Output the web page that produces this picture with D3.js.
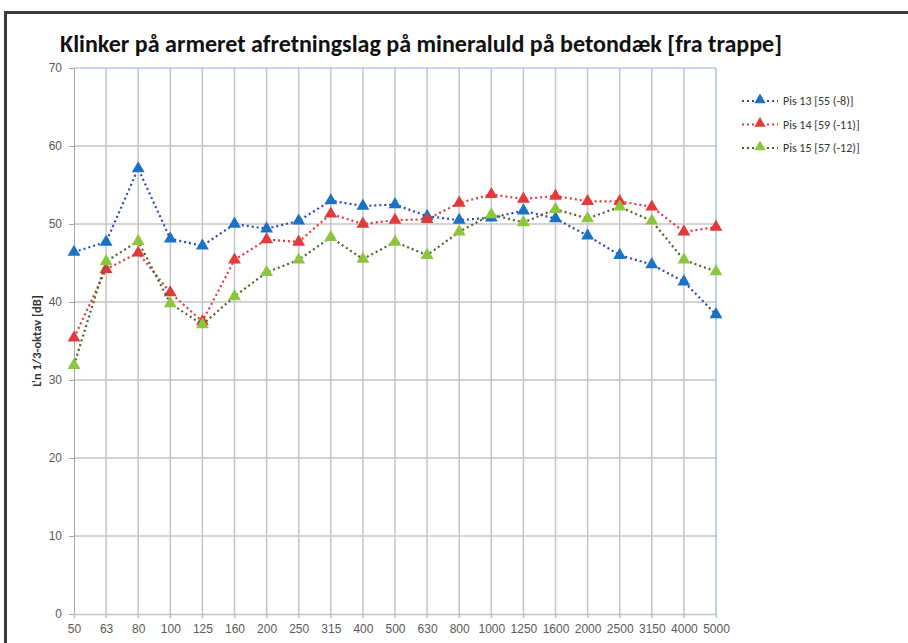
<!DOCTYPE html>
<html>
<head>
<meta charset="utf-8">
<script src="https://cdn.jsdelivr.net/npm/d3@7"></script>
<style>
  body { margin: 0; background: #fff; }
  svg { display: block; font-family: Carlito, "Liberation Sans", Lato, sans-serif; }
</style>
</head>
<body>
<div id="chart"></div>
<script>
// 1/3-octave frequency bands
var bands = ["50","63","80","100","125","160","200","250","315","400","500","630","800","1000","1250","1600","2000","2500","3150","4000","5000"];
var pis13 = [46.4,47.7,57.1,48.1,47.2,50.0,49.4,50.4,53.0,52.3,52.5,51.0,50.5,50.8,51.7,50.7,48.5,46.0,44.8,42.6,38.4];
var pis14 = [35.4,44.2,46.3,41.2,37.5,45.4,48.0,47.7,51.3,50.0,50.5,50.6,52.7,53.8,53.2,53.6,52.9,52.9,52.2,49.0,49.6];
var pis15 = [31.9,45.2,47.8,39.8,37.1,40.7,43.8,45.4,48.3,45.5,47.7,46.0,49.0,51.2,50.2,51.9,50.7,52.2,50.4,45.4,43.9];
var seriesNames = ["Pis 13 [55 (-8)]", "Pis 14 [59 (-11)]", "Pis 15 [57 (-12)]"];
var yTicks = [0,10,20,30,40,50,60,70];

var width = 908, height = 643;
var margin = {left: 74, top: 68, right: 716, bottom: 614};

var series = [
  {name: seriesNames[0], values: pis13, line: "#2b45c0", marker: "#1a72c4"},
  {name: seriesNames[1], values: pis14, line: "#e23a3a", marker: "#e03a3a"},
  {name: seriesNames[2], values: pis15, line: "#4f6228", marker: "#8cc63e"}
];

var svg = d3.select("#chart").append("svg")
  .attr("width", width)
  .attr("height", height);

// chart frame
svg.append("rect")
  .attr("x", 5.5).attr("y", 12.5)
  .attr("width", 1000).attr("height", 1000)
  .attr("fill", "none")
  .attr("stroke", "#3a3a3a")
  .attr("stroke-width", 3);

var x = d3.scalePoint().domain(bands).range([margin.left, margin.right]);
var y = d3.scaleLinear().domain([0, 70]).range([margin.bottom, margin.top]);

// gridlines
svg.append("g").selectAll("line")
  .data(bands.slice(1, -1))
  .enter().append("line")
  .attr("x1", d => x(d)).attr("x2", d => x(d))
  .attr("y1", margin.top).attr("y2", margin.bottom + 4)
  .attr("stroke", "#c4c4c4").attr("stroke-width", 1.5);

svg.append("g").selectAll("line")
  .data(yTicks.slice(1, -1))
  .enter().append("line")
  .attr("x1", margin.left).attr("x2", margin.right)
  .attr("y1", d => y(d)).attr("y2", d => y(d))
  .attr("stroke", "#c4c4c4").attr("stroke-width", 1.5);

// plot area border: top and right bluish
svg.append("line")
  .attr("x1", margin.left).attr("x2", margin.right)
  .attr("y1", margin.top).attr("y2", margin.top)
  .attr("stroke", "#8fb3de").attr("stroke-width", 1.2);
svg.append("line")
  .attr("x1", margin.right).attr("x2", margin.right)
  .attr("y1", margin.top).attr("y2", margin.bottom)
  .attr("stroke", "#8fb3de").attr("stroke-width", 1.2);

// y axis
var yAxis = d3.axisLeft(y).tickValues(yTicks).tickSize(5).tickPadding(7);
var gy = svg.append("g").attr("transform", "translate(" + margin.left + ",0)").call(yAxis);
gy.select(".domain").attr("stroke", "#a6a6a6");
gy.selectAll(".tick line").attr("stroke", "#a6a6a6");
gy.selectAll("text").attr("fill", "#595959").style("font-size", "12px");

// x axis
var xAxis = d3.axisBottom(x).tickSize(4).tickPadding(6);
var gx = svg.append("g").attr("transform", "translate(0," + margin.bottom + ")").call(xAxis);
gx.select(".domain").attr("stroke", "#c4c4c4").attr("stroke-width", 1.5);
gx.selectAll(".tick line").attr("stroke", "#c4c4c4");
gx.selectAll("text").attr("fill", "#595959").style("font-size", "12px");

// y label
svg.append("text")
  .attr("transform", "translate(41,341) rotate(-90)")
  .attr("text-anchor", "middle")
  .style("font-size", "12.5px")
  .style("font-weight", "bold")
  .attr("fill", "#333")
  .text("L'n 1/3-oktav [dB]");

// title
svg.append("text")
  .attr("x", 60).attr("y", 52)
  .attr("textLength", 722)
  .attr("lengthAdjust", "spacingAndGlyphs")
  .style("font-size", "25px")
  .style("font-weight", "bold")
  .attr("fill", "#111")
  .text("Klinker på armeret afretningslag på mineraluld på betondæk [fra trappe]");

var line = d3.line()
  .x((d, i) => x(bands[i]))
  .y(d => y(d));

var tri = d3.symbol().type(d3.symbolTriangle).size(72);

series.forEach(function(s) {
  svg.append("path")
    .datum(s.values)
    .attr("d", line)
    .attr("fill", "none")
    .attr("stroke", s.line)
    .attr("stroke-width", 2.2)
    .attr("stroke-dasharray", "2,3");

  svg.append("g").selectAll("path")
    .data(s.values)
    .enter().append("path")
    .attr("d", tri)
    .attr("transform", (d, i) => "translate(" + x(bands[i]) + "," + y(d) + ")")
    .attr("fill", s.marker);
});

// legend
var legend = svg.append("g").selectAll("g")
  .data(series)
  .enter().append("g")
  .attr("transform", (d, i) => "translate(742," + (101 + i * 23.5) + ")");

legend.append("line")
  .attr("x1", 0).attr("x2", 36)
  .attr("stroke", d => d.line)
  .attr("stroke-width", 2)
  .attr("stroke-dasharray", "2,3");
legend.append("path")
  .attr("d", d3.symbol().type(d3.symbolTriangle).size(55))
  .attr("transform", "translate(18,-1)")
  .attr("fill", d => d.marker);
legend.append("text")
  .attr("x", 41).attr("y", 4)
  .style("font-size", "12px")
  .attr("fill", "#333")
  .text(d => d.name);
</script>
</body>
</html>
